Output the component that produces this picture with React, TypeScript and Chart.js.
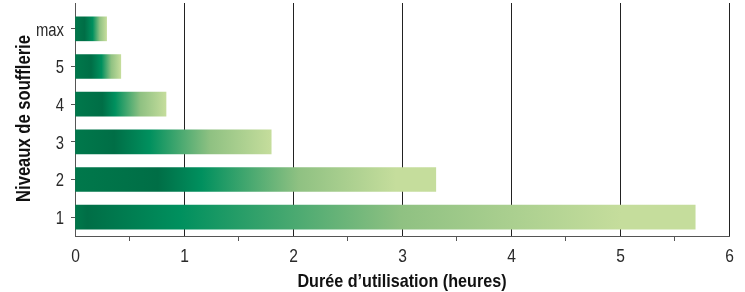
import React, { useEffect, useRef } from "react";
import { Chart, registerables } from "chart.js";

Chart.register(...registerables);

const categories = ["max", "5", "4", "3", "2", "1"];
const hours = [0.29, 0.42, 0.835, 1.8, 3.31, 5.69];
const xTickValues = [0, 1, 2, 3, 4, 5, 6];
const xTitle = "Durée d\u2019utilisation (heures)";
const yTitle = "Niveaux de soufflerie";

// gradient styling per bar (fractions of the bar's length)
const darkStops = [0.3, 0.35, 0.3, 0.2, 0.23, 0.02];
const brightStops = [0.56, 0.58, 0.44, 0.38, 0.35, 0.17];
const lightStops = [1.0, 1.0, 1.0, 1.0, 0.89, 0.88];

const FONT = "'Liberation Sans', Arial, Helvetica, sans-serif";

function drawText(ctx: CanvasRenderingContext2D, text: string, x: number, y: number, align: CanvasTextAlign, sx: number, rot = 0) {
  ctx.save();
  ctx.translate(x, y);
  if (rot) ctx.rotate(rot);
  ctx.scale(sx, 1);
  ctx.textAlign = align;
  ctx.textBaseline = "alphabetic";
  ctx.fillText(text, 0, 0);
  ctx.restore();
}

export default function App() {
  const ref = useRef<HTMLCanvasElement | null>(null);
  useEffect(() => {
    document.body.style.margin = "0";
    const canvas = ref.current!;
    const decorations = {
      id: "decorations",
      afterDraw(chart: any) {
        const { ctx, chartArea, scales } = chart;
        ctx.save();
        ctx.lineWidth = 1;
        xTickValues.forEach((v) => {
          const x = Math.round(scales.x.getPixelForValue(v)) + 0.5;
          ctx.strokeStyle = v === 0 ? "#555" : "#222";
          ctx.beginPath();
          ctx.moveTo(x, 3);
          ctx.lineTo(x, chartArea.top);
          ctx.stroke();
        });
        // tick labels
        ctx.fillStyle = "#2a2a2a";
        ctx.font = `19px ${FONT}`;
        categories.forEach((c, i) => {
          const y = scales.y.getPixelForValue(i);
          drawText(ctx, c, 64, y + 6.7, "right", 0.78);
        });
        xTickValues.forEach((v) => {
          const x = scales.x.getPixelForValue(v);
          drawText(ctx, String(v), x + 0.5, 262, "center", 0.82);
        });
        // titles
        ctx.fillStyle = "#111";
        ctx.font = `bold 19px ${FONT}`;
        drawText(ctx, xTitle, (chartArea.left + chartArea.right) / 2, 286.5, "center", 0.85);
        ctx.font = `bold 21px ${FONT}`;
        drawText(ctx, yTitle, 29.5, 118.5, "center", 0.79, -Math.PI / 2);
        ctx.restore();
      },
    };
    const chart = new Chart(canvas, {
      type: "bar",
      data: {
        labels: categories,
        datasets: [
          {
            data: hours,
            barThickness: 24,
            borderWidth: 0,
            backgroundColor: (c: any) => {
              const chart = c.chart;
              const area = chart.chartArea;
              if (!area || c.dataIndex === undefined) return "#008f5e";
              const i = c.dataIndex;
              const x0 = chart.scales.x.getPixelForValue(0);
              const x1 = chart.scales.x.getPixelForValue(hours[i]);
              const g = chart.ctx.createLinearGradient(x0, 0, x1, 0);
              const b = brightStops[i];
              const l = lightStops[i];
              g.addColorStop(0, "#00784b");
              g.addColorStop(darkStops[i], "#006e46");
              g.addColorStop(b, "#00905e");
              g.addColorStop(b + 0.5 * (l - b), "#8fc182");
              g.addColorStop(l, "#c5dd9c");
              g.addColorStop(1, "#c5dd9c");
              return g;
            },
          },
        ],
      },
      options: {
        indexAxis: "y",
        animation: false,
        responsive: false,
        maintainAspectRatio: false,
        layout: { padding: { top: 10, right: 16, left: 0, bottom: 0 } },
        plugins: { legend: { display: false }, tooltip: { enabled: false } },
        scales: {
          x: {
            type: "linear",
            min: 0,
            max: 6,
            afterFit: (s: any) => {
              s.height = 56;
            },
            afterBuildTicks: (s: any) => {
              const t = [];
              for (let v = 0; v <= 6; v += 0.5) t.push({ value: v });
              s.ticks = t;
            },
            border: { display: true, color: "#555", width: 1 },
            grid: {
              drawOnChartArea: true,
              drawTicks: true,
              tickLength: 5,
              color: (c: any) => (c.tick && Number.isInteger(c.tick.value) && c.tick.value !== 0 ? "#222" : "rgba(0,0,0,0)"),
              tickColor: (c: any) => (c.tick && !Number.isInteger(c.tick.value) ? "#555" : "rgba(0,0,0,0)"),
            },
            ticks: { display: false, autoSkip: false },
            title: { display: false },
          },
          y: {
            type: "category",
            afterFit: (s: any) => {
              s.width = 75;
            },
            border: { display: true, color: "#555", width: 1 },
            grid: {
              drawOnChartArea: false,
              drawTicks: true,
              tickLength: 4,
              tickColor: "#555",
              offset: false,
            },
            ticks: { display: false },
            title: { display: false },
          },
        },
      },
      plugins: [decorations],
    } as any);
    return () => chart.destroy();
  }, []);
  return (
    <div style={{ width: 745, height: 292 }}>
      <canvas ref={ref} width={745} height={292} style={{ display: "block", width: 745, height: 292 }} />
    </div>
  );
}
